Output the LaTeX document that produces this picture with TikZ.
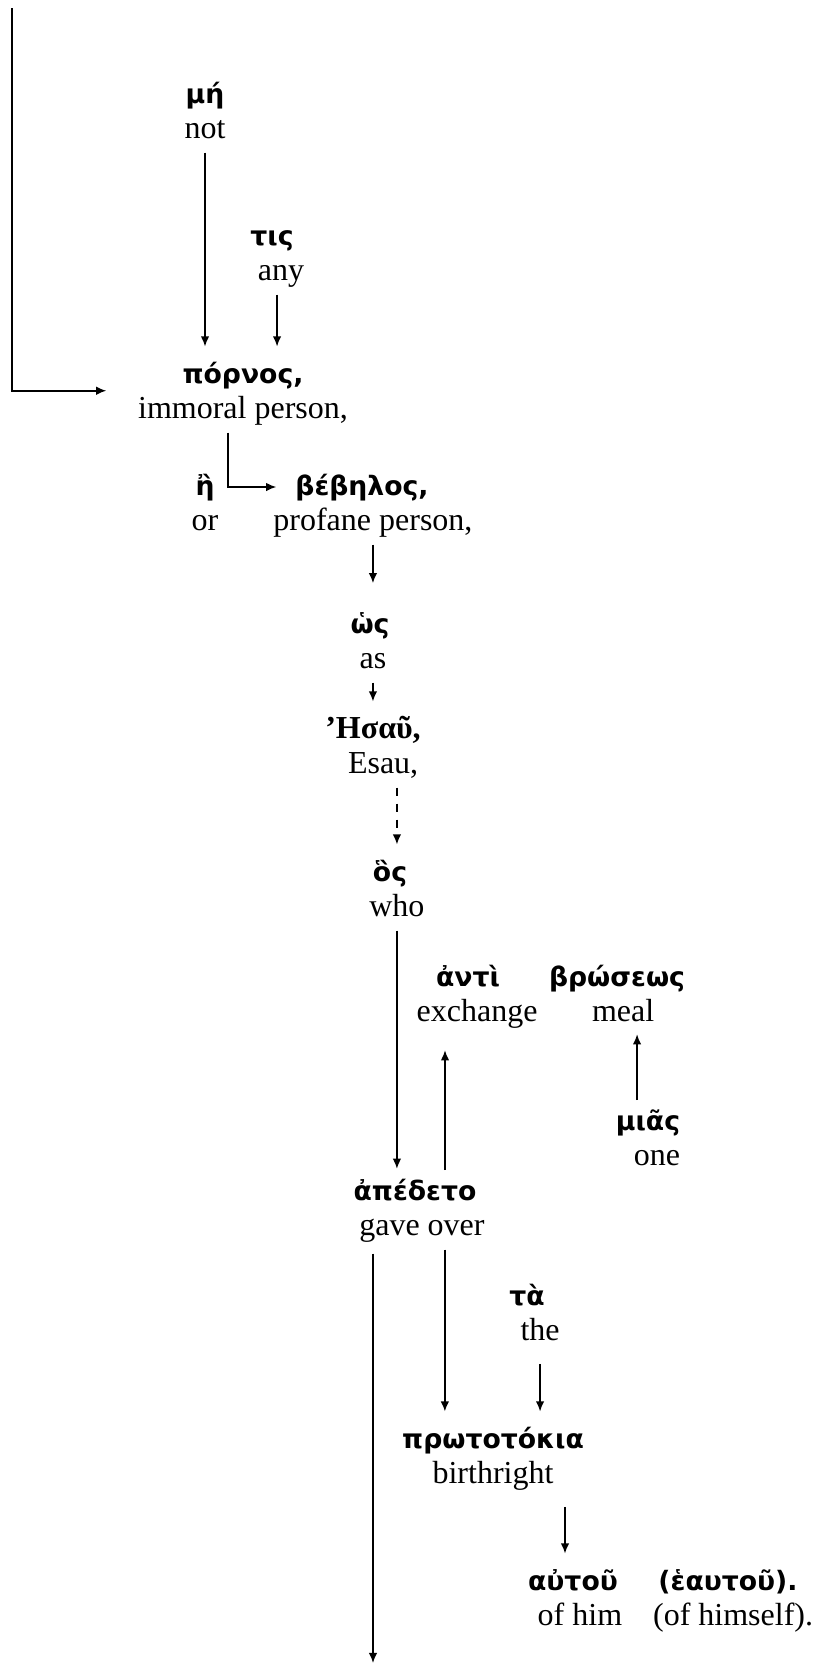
\documentclass[tikz,border=0pt]{standalone}
\usepackage{fontspec}
\setmainfont{Liberation Serif}
\newfontfamily\grk{DejaVu Sans}
\usetikzlibrary{arrows.meta, positioning, calc}

\begin{document}
\begin{tikzpicture}[
            x=0.375pt, y=-0.375pt,
            node distance=0pt,
            gr/.style={font=\grk\bfseries\fontsize{10}{12}\selectfont, inner sep=0.5pt, text height=9pt, text depth=3pt},
            grb/.style={font=\bfseries\fontsize{12}{14}\selectfont, inner sep=0.5pt, text height=9pt, text depth=3pt},
            en/.style={font=\fontsize{12}{14}\selectfont, inner sep=0.5pt, text height=9pt, text depth=3pt},
            arrow/.style={-{Latex[length=3.8pt, width=3.2pt]}, line width=0.6pt, shorten >=4pt, shorten <=1.5pt}
        ]
            \useasboundingbox (0,0) rectangle (814,1664);

            \node[gr] (mh) at (205,95) {μή};
            \node[en, below=of mh] (not) {not};
            \node[gr] (tis) at (272,237) {τις};
            \node[en, below=of tis, xshift=3.4pt] (any) {any};
            \node[gr] (pornos) at (243,375) {πόρνος,};
            \node[en, below=of pornos] (immoral) {immoral person,};
            \node[gr] (e) at (205,487) {ἢ};
            \node[en, below=of e] (or) {or};
            \node[gr] (bebelos) at (362,487) {βέβηλος,};
            \node[en, below=of bebelos, xshift=4.1pt] (profane) {profane person,};
            \node[gr] (hos) at (370,625) {ὡς};
            \node[en, below=of hos, xshift=1.1pt] (as) {as};
            \node[grb] (esaugr) at (373,730) {’Ησαῦ,};
            \node[en, below=of esaugr, xshift=3.8pt] (esau) {Esau,};
            \node[gr] (hos2) at (390,873) {ὃς};
            \node[en, below=of hos2, xshift=2.6pt] (who) {who};
            \node[gr] (anti) at (468,978) {ἀντὶ};
            \node[en, below=of anti, xshift=3.4pt] (exchange) {exchange};
            \node[gr] (broseos) at (617,978) {βρώσεως};
            \node[en, below=of broseos, xshift=2.3pt] (meal) {meal};
            \node[gr] (mias) at (648,1122) {μιᾶς};
            \node[en, below=of mias, xshift=3.4pt] (one) {one};
            \node[gr] (apedeto) at (415,1192) {ἀπέδετο};
            \node[en, below=of apedeto, xshift=2.6pt] (gaveover) {gave over};
            \node[gr] (ta) at (527,1297) {τὰ};
            \node[en, below=of ta, xshift=4.9pt] (the) {the};
            \node[gr] (proto) at (493,1440) {πρωτοτόκια};
            \node[en, below=of proto] (birthright) {birthright};
            \node[gr] (autou) at (573,1582) {αὐτοῦ};
            \node[en, below=of autou, xshift=2.6pt] (ofhim) {of him};
            \node[gr] (heautou) at (728,1582) {(ἑαυτοῦ).};
            \node[en, below=of heautou, xshift=1.9pt] (ofhimself) {(of himself).};

            \coordinate (start) at (12,8);
            \coordinate (bottom) at (373,1663);

            \draw[arrow, shorten <=0pt, shorten >=0pt] (start) |- ($(immoral.west)+(-30,-20)$);
            \draw[arrow] (not.south) -- (not.south |- pornos.north);
            \draw[arrow] ([xshift=-1.5pt]any.south) -- ([xshift=-1.5pt]any.south |- pornos.north);
            \draw[arrow, shorten >=6.5pt] ([xshift=-5.6pt]immoral.south) |- (bebelos.west);
            \draw[arrow, shorten >=9pt] (profane.south) -- (profane.south |- hos.north);
            \draw[arrow] (as.south) -- (as.south |- esaugr.north);
            \draw[arrow, dashed] (esau.south -| who) -- (hos2.north -| who);
            \draw[arrow, shorten >=2pt] (who.south) -- (who.south |- apedeto.north);
            \draw[arrow, shorten >=7pt] ([xshift=11.25pt]apedeto.north) -- ([xshift=11.25pt]apedeto.north |- exchange.south);
            \draw[arrow, shorten >=1pt] ([xshift=-4.1pt]mias.north) -- ([xshift=-4.1pt]mias.north |- meal.south);
            \draw[arrow] ([xshift=8.6pt]gaveover.south) -- ([xshift=8.6pt]gaveover.south |- proto.north);
            \draw[arrow, shorten <=5pt] (the.south) -- (the.south |- proto.north);
            \draw[arrow, shorten <=5pt] ([xshift=-3pt]autou.north |- birthright.south) -- ([xshift=-3pt]autou.north);
            \draw[arrow, shorten <=3pt, shorten >=0pt] (gaveover.south -| bottom) -- (bottom);
        \end{tikzpicture}
\end{document}
